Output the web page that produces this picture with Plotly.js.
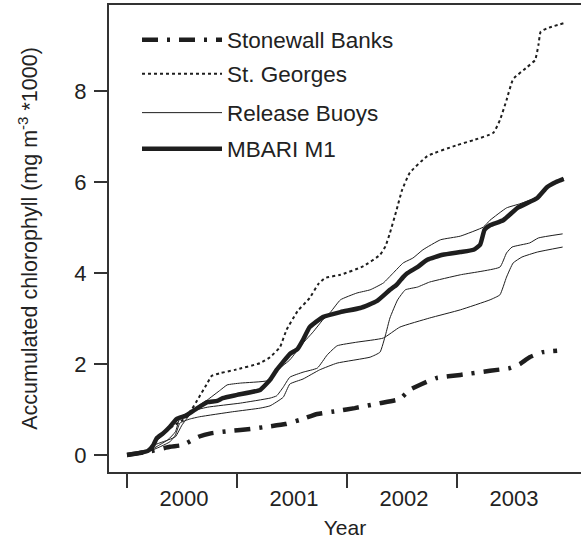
<!DOCTYPE html>
<html><head><meta charset="utf-8">
<script src="https://cdn.plot.ly/plotly-3.0.1.min.js"></script>
<style>html,body{margin:0;padding:0;background:#fff;overflow:hidden}</style>
</head><body><div id="chart" style="width:581px;height:540px"></div>
<script>
// ---- data (decimal years, accumulated chlorophyll mg m^-3 * 1000) ----
const stonewallT = [2000.00,2000.19,2000.39,2000.51,2000.65,2000.77,2000.94,2001.12,2001.27,2001.44,2001.57,2001.73,2001.92,2002.07,2002.30,2002.48,2002.57,2002.68,2002.81,2003.03,2003.30,2003.48,2003.57,2003.66,2003.78,2003.91];
const stonewallV = [0,0.07,0.18,0.22,0.40,0.48,0.53,0.57,0.62,0.68,0.77,0.90,0.97,1.03,1.14,1.23,1.43,1.56,1.69,1.76,1.85,1.91,2.00,2.15,2.26,2.29];

const georgesT = [2000.00,2000.19,2000.27,2000.39,2000.53,2000.59,2000.65,2000.73,2000.77,2000.85,2000.98,2001.21,2001.30,2001.39,2001.45,2001.55,2001.66,2001.74,2001.80,2001.94,2002.15,2002.30,2002.35,2002.39,2002.45,2002.50,2002.57,2002.73,2003.00,2003.15,2003.33,2003.39,2003.45,2003.51,2003.64,2003.71,2003.74,2003.76,2003.82,2003.97];
const georgesV = [0,0.09,0.33,0.59,0.81,1.01,1.25,1.58,1.74,1.80,1.87,2.02,2.15,2.37,2.75,3.16,3.45,3.76,3.89,3.96,4.15,4.40,4.59,4.88,5.38,5.82,6.20,6.57,6.81,6.92,7.08,7.36,7.80,8.26,8.53,8.68,9.01,9.30,9.38,9.49];

const buoyAT = [2000.00,2000.19,2000.25,2000.35,2000.44,2000.50,2000.57,2000.66,2000.73,2000.85,2000.91,2001.03,2001.27,2001.33,2001.39,2001.48,2001.60,2001.69,2001.78,2001.85,2001.94,2002.09,2002.21,2002.33,2002.42,2002.51,2002.60,2002.69,2002.85,2003.03,2003.24,2003.30,2003.45,2003.57,2003.73,2003.82,2003.90,2003.97];
const buoyAV = [0,0.09,0.22,0.31,0.40,0.66,0.88,1.10,1.21,1.43,1.54,1.58,1.63,1.76,1.91,2.09,2.46,2.70,2.97,3.14,3.41,3.56,3.63,3.78,4.00,4.22,4.33,4.51,4.73,4.81,5.01,5.16,5.43,5.52,5.67,5.91,6.02,6.07];

const buoyBT = [2000.00,2000.19,2000.30,2000.39,2000.44,2000.48,2000.57,2000.66,2000.96,2001.21,2001.30,2001.42,2001.48,2001.60,2001.75,2001.91,2002.21,2002.30,2002.35,2002.39,2002.46,2002.53,2002.64,2002.75,2003.03,2003.39,2003.45,2003.50,2003.66,2003.74,2003.96];
const buoyBV = [0,0.07,0.18,0.29,0.44,0.70,0.79,0.84,0.95,1.03,1.08,1.27,1.56,1.67,1.87,2.02,2.15,2.26,2.64,3.01,3.41,3.63,3.69,3.80,3.96,4.13,4.44,4.57,4.66,4.77,4.86];

const buoyCT = [2000.00,2000.19,2000.28,2000.37,2000.44,2000.48,2000.57,2000.73,2001.03,2001.30,2001.36,2001.42,2001.48,2001.60,2001.73,2001.82,2001.91,2002.09,2002.33,2002.48,2002.75,2003.03,2003.30,2003.39,2003.45,2003.51,2003.59,2003.73,2003.96];
const buoyCV = [0,0.07,0.20,0.33,0.51,0.81,0.95,1.05,1.14,1.25,1.30,1.49,1.71,1.82,1.91,2.20,2.40,2.48,2.57,2.81,3.01,3.19,3.41,3.52,3.91,4.22,4.35,4.46,4.57];

const mbariT = [2000.00,2000.19,2000.24,2000.27,2000.33,2000.39,2000.45,2000.53,2000.57,2000.64,2000.73,2000.82,2000.87,2001.00,2001.21,2001.30,2001.36,2001.41,2001.48,2001.55,2001.60,2001.66,2001.78,2001.94,2002.12,2002.27,2002.39,2002.45,2002.51,2002.55,2002.64,2002.73,2002.87,2003.03,2003.15,2003.21,2003.25,2003.30,2003.42,2003.55,2003.73,2003.82,2003.90,2003.97];
const mbariV = [0,0.09,0.22,0.37,0.48,0.62,0.79,0.86,0.92,1.03,1.16,1.19,1.25,1.32,1.43,1.65,1.87,2.02,2.22,2.33,2.53,2.81,3.03,3.14,3.23,3.38,3.63,3.74,3.91,4.00,4.13,4.29,4.40,4.46,4.51,4.62,4.95,5.05,5.16,5.43,5.65,5.89,6.00,6.07];

const seriesNames = ['Stonewall Banks','St. Georges','Release Buoys','MBARI M1'];
const xTickVals = [2000,2001,2002,2003];
const xTickText = ['2000','2001','2002','2003'];
const yTickVals = [0,2,4,6,8];

// ---- styling ----
const FONT = 'Liberation Sans, Arial, Helvetica, sans-serif';
const INK = '#1e1e1e';
const AX = '#333333';
const TXT = '#222222';

function tr(name, t, v, width, dash, legend, showlegend) {
  return {type:'scatter', mode:'lines', name:name, x:t, y:v,
    line:{color:INK, width:width, dash:dash, shape:'spline', smoothing:0.4},
    legend:legend, showlegend:showlegend, legendgroup:name, hoverinfo:'skip'};
}

const data = [
  tr(seriesNames[2], buoyAT, buoyAV, 1, 'solid', 'legend3', true),
  tr(seriesNames[2], buoyBT, buoyBV, 1, 'solid', 'legend3', false),
  tr(seriesNames[2], buoyCT, buoyCV, 1, 'solid', 'legend3', false),
  tr(seriesNames[1], georgesT, georgesV, 2, '3px,3px', 'legend2', true),
  tr(seriesNames[0], stonewallT, stonewallV, 4.5, '16px,9px,3px,9px', 'legend', true),
  tr(seriesNames[3], mbariT, mbariV, 4.5, 'solid', 'legend4', true)
];

const PW = 472, PH = 467;
function leg(yc) {
  return {x:(137-109)/PW, y:(472-yc)/PH, xanchor:'left', yanchor:'middle',
    itemwidth:80, bgcolor:'rgba(0,0,0,0)', borderwidth:0,
    font:{family:FONT, size:22.5, color:TXT}};
}

const layout = {
  width:581, height:540,
  margin:{l:109, r:0, t:5, b:68, pad:0},
  paper_bgcolor:'#ffffff', plot_bgcolor:'#ffffff',
  font:{family:FONT, size:22, color:TXT},
  showlegend:true,
  legend:leg(40), legend2:leg(74), legend3:leg(113), legend4:leg(149),
  xaxis:{range:[1999.836, 2004.127], tickvals:xTickVals, ticktext:xTickText,
    ticklabelshift:57, ticklabelstandoff:-8, ticks:'outside', ticklen:14, tickwidth:1.5, tickcolor:AX,
    showline:true, linewidth:2, linecolor:AX, mirror:true,
    showgrid:false, zeroline:false, fixedrange:true,
    tickfont:{family:FONT, size:22, color:TXT},
    title:{text:'Year', font:{family:FONT, size:21, color:TXT}, standoff:10}},
  yaxis:{range:[-0.374, 9.89], tickvals:yTickVals, ticks:'outside', ticklen:13,
    ticklabelstandoff:3,
    tickwidth:1.5, tickcolor:AX, showline:true, linewidth:2, linecolor:AX,
    showgrid:false, zeroline:false, fixedrange:true,
    tickfont:{family:FONT, size:22, color:TXT},
    title:{text:'Accumulated chlorophyll (mg m<sup>-3</sup> *1000)',
      font:{family:FONT, size:21.5, color:TXT}, standoff:31}}
};

Plotly.newPlot('chart', data, layout, {displayModeBar:false, staticPlot:true});
</script>
</body></html>
